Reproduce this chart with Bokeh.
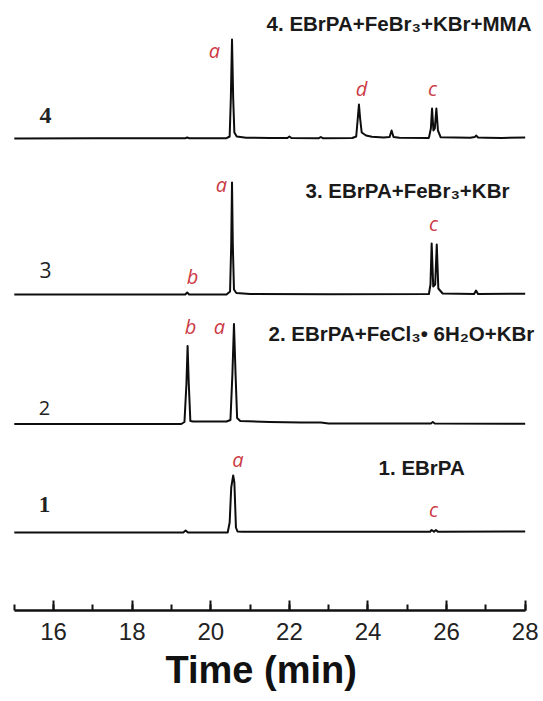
from bokeh.plotting import figure
from bokeh.models import Range1d, SingleIntervalTicker, Label, Title
from bokeh.embed import file_html
from bokeh.resources import INLINE

# ---- chromatogram data: retention time (min) and detector response (a.u.) ----
# trace 4: EBrPA+FeBr3+KBr+MMA
t4 = [15.0, 17.0, 19.0, 19.35, 19.40, 19.45, 20.40, 20.48, 20.51, 20.54, 20.57, 20.60, 20.66,
      20.90, 21.50, 21.95, 22.00, 22.05, 22.75, 22.80, 22.85, 23.60, 23.70, 23.74, 23.77, 23.80,
      23.84, 23.95, 24.10, 24.40, 24.55, 24.60, 24.65, 24.80, 25.55, 25.60, 25.63, 25.665, 25.70,
      25.74, 25.78, 25.85, 26.60, 26.72, 26.75, 26.80, 27.00, 27.40, 28.0]
i4 = [0.0, 0.3, 0.3, 0.3, 1.0, 0.3, 0.3, 2.0, 40.0, 99.0, 40.0, 6.0, 2.0,
      0.8, 0.5, 0.5, 2.0, 0.5, 0.3, 1.5, 0.3, 0.5, 2.0, 20.0, 34.0, 20.0,
      6.0, 3.0, 1.8, 1.0, 1.5, 8.0, 1.5, 0.8, 0.6, 10.0, 30.0, 8.0, 10.0,
      30.0, 8.0, 1.2, 0.8, 1.5, 3.0, 1.0, 0.8, 0.6, 1.0]

# trace 3: EBrPA+FeBr3+KBr
t3 = [15.0, 18.0, 19.35, 19.40, 19.45, 20.40, 20.49, 20.52, 20.54, 20.56, 20.59, 20.65,
      21.00, 23.00, 25.55, 25.59, 25.62, 25.66, 25.71, 25.75, 25.79, 25.90, 26.70, 26.75,
      26.80, 28.0]
i3 = [0.0, 0.0, 0.0, 2.0, 0.0, 0.0, 3.0, 50.0, 112.0, 50.0, 5.0, 1.5,
      0.5, 0.3, 0.5, 10.0, 51.0, 8.0, 10.0, 50.0, 6.0, 1.0, 0.5, 4.0,
      0.5, 0.8]

# trace 2: EBrPA+FeCl3.6H2O+KBr
t2 = [15.0, 19.25, 19.33, 19.38, 19.41, 19.44, 19.48, 19.55, 20.40, 20.50, 20.55, 20.59,
      20.63, 20.67, 20.75, 21.50, 22.30, 22.80, 23.00, 25.60, 25.65, 25.70, 28.0]
i2 = [0.0, 0.0, 2.0, 40.0, 78.0, 40.0, 3.0, 2.5, 2.5, 4.0, 50.0, 100.0,
      50.0, 6.0, 3.0, 2.0, 1.5, 1.5, 0.5, 0.5, 2.0, 0.5, 0.3]

# trace 1: EBrPA
t1 = [15.0, 19.30, 19.36, 19.42, 20.43, 20.48, 20.52, 20.57, 20.60, 20.64, 20.68, 20.80,
      21.50, 25.58, 25.62, 25.68, 25.73, 25.78, 28.0]
i1 = [0.0, 0.0, 2.0, 0.0, 0.0, 10.0, 45.0, 57.0, 50.0, 5.0, 1.0, 0.8,
      0.8, 0.8, 2.5, 0.8, 2.5, 0.8, 1.0]

# vertical offsets of the stacked traces (a.u.)
offsets = [78, 186.5, 316, 472]
series_t = [t1, t2, t3, t4]
series_i = [i1, i2, i3, i4]

numbers = ["1", "2", "3", "4"]
titles = ["1. EBrPA",
          "2. EBrPA+FeCl\u2083\u2022 6H\u2082O+KBr",
          "3. EBrPA+FeBr\u2083+KBr",
          "4. EBrPA+FeBr\u2083+KBr+MMA"]
peak_letters = ["a", "c", "b", "a", "b", "a", "c", "a", "d", "c"]

# ---- figure ----
p = figure(width=543, height=700, x_range=Range1d(14.649, 28.466), y_range=Range1d(0, 610),
           y_axis_location=None, toolbar_location=None, output_backend="svg",
           min_border_left=0, min_border_right=0, min_border_top=0, min_border_bottom=90)
p.outline_line_color = None
p.grid.visible = False

for ts, vals, off in zip(series_t, series_i, offsets):
    ys = [off + v for v in vals]
    p.line(ts, ys, line_color="#0d0d0d", line_width=2, line_join="round")

ax = p.xaxis[0]
ax.bounds = (15, 28)
ax.ticker = SingleIntervalTicker(interval=2, num_minor_ticks=2)
ax.axis_line_width = 2.5
ax.axis_line_color = "#111111"
ax.major_tick_in = 10
ax.major_tick_out = 0
ax.minor_tick_in = 6
ax.minor_tick_out = 0
ax.major_tick_line_width = 2
ax.minor_tick_line_width = 2
ax.major_tick_line_color = "#111111"
ax.minor_tick_line_color = "#111111"
ax.major_label_text_font = "Liberation Sans"
ax.major_label_text_font_size = "24px"
ax.major_label_text_color = "#222222"
ax.major_label_standoff = 12

# axis title
p.add_layout(Title(text="Time (min)", align="left", offset=165, standoff=9,
                   text_font="Liberation Sans", text_font_style="bold",
                   text_font_size="38px", text_color="#111111"), "below")

# trace titles
title_pos = [(24.27, 143), (21.47, 277), (22.41, 420), (21.42, 587)]
for txt, (x, y) in zip(titles, title_pos):
    p.add_layout(Label(x=x, y=y, text=txt, text_font="Liberation Sans", text_font_style="bold",
                       text_font_size="20.5px", text_color="#1a1a1a",
                       text_align="left", text_baseline="alphabetic"))

# trace numbers
num_pos = [(15.768, 106), (15.768, 203), (15.794, 341), (15.794, 495)]
num_font = ["Liberation Serif", "Open Sans", "Open Sans", "Liberation Serif"]
num_style = ["bold", "normal", "normal", "bold"]
num_size = ["23px", "20px", "21px", "24px"]
for txt, (x, y), f, s, sz in zip(numbers, num_pos, num_font, num_style, num_size):
    p.add_layout(Label(x=x, y=y, text=txt, text_font=f, text_font_style=s,
                       text_font_size=sz, text_color="#222222",
                       text_align="center", text_baseline="alphabetic"))

# peak letters
letter_pos = [(20.692, 151), (25.667, 101),
              (19.483, 284), (20.221, 284),
              (19.534, 334), (20.272, 426), (25.667, 387),
              (20.094, 560), (23.835, 522), (25.641, 522)]
for txt, (x, y) in zip(peak_letters, letter_pos):
    p.add_layout(Label(x=x, y=y, text=txt, text_font="Open Sans", text_font_style="italic",
                       text_font_size="20px", text_color="#cc3a44",
                       text_align="center", text_baseline="alphabetic"))

open("out.html", "w").write(file_html(p, INLINE))
